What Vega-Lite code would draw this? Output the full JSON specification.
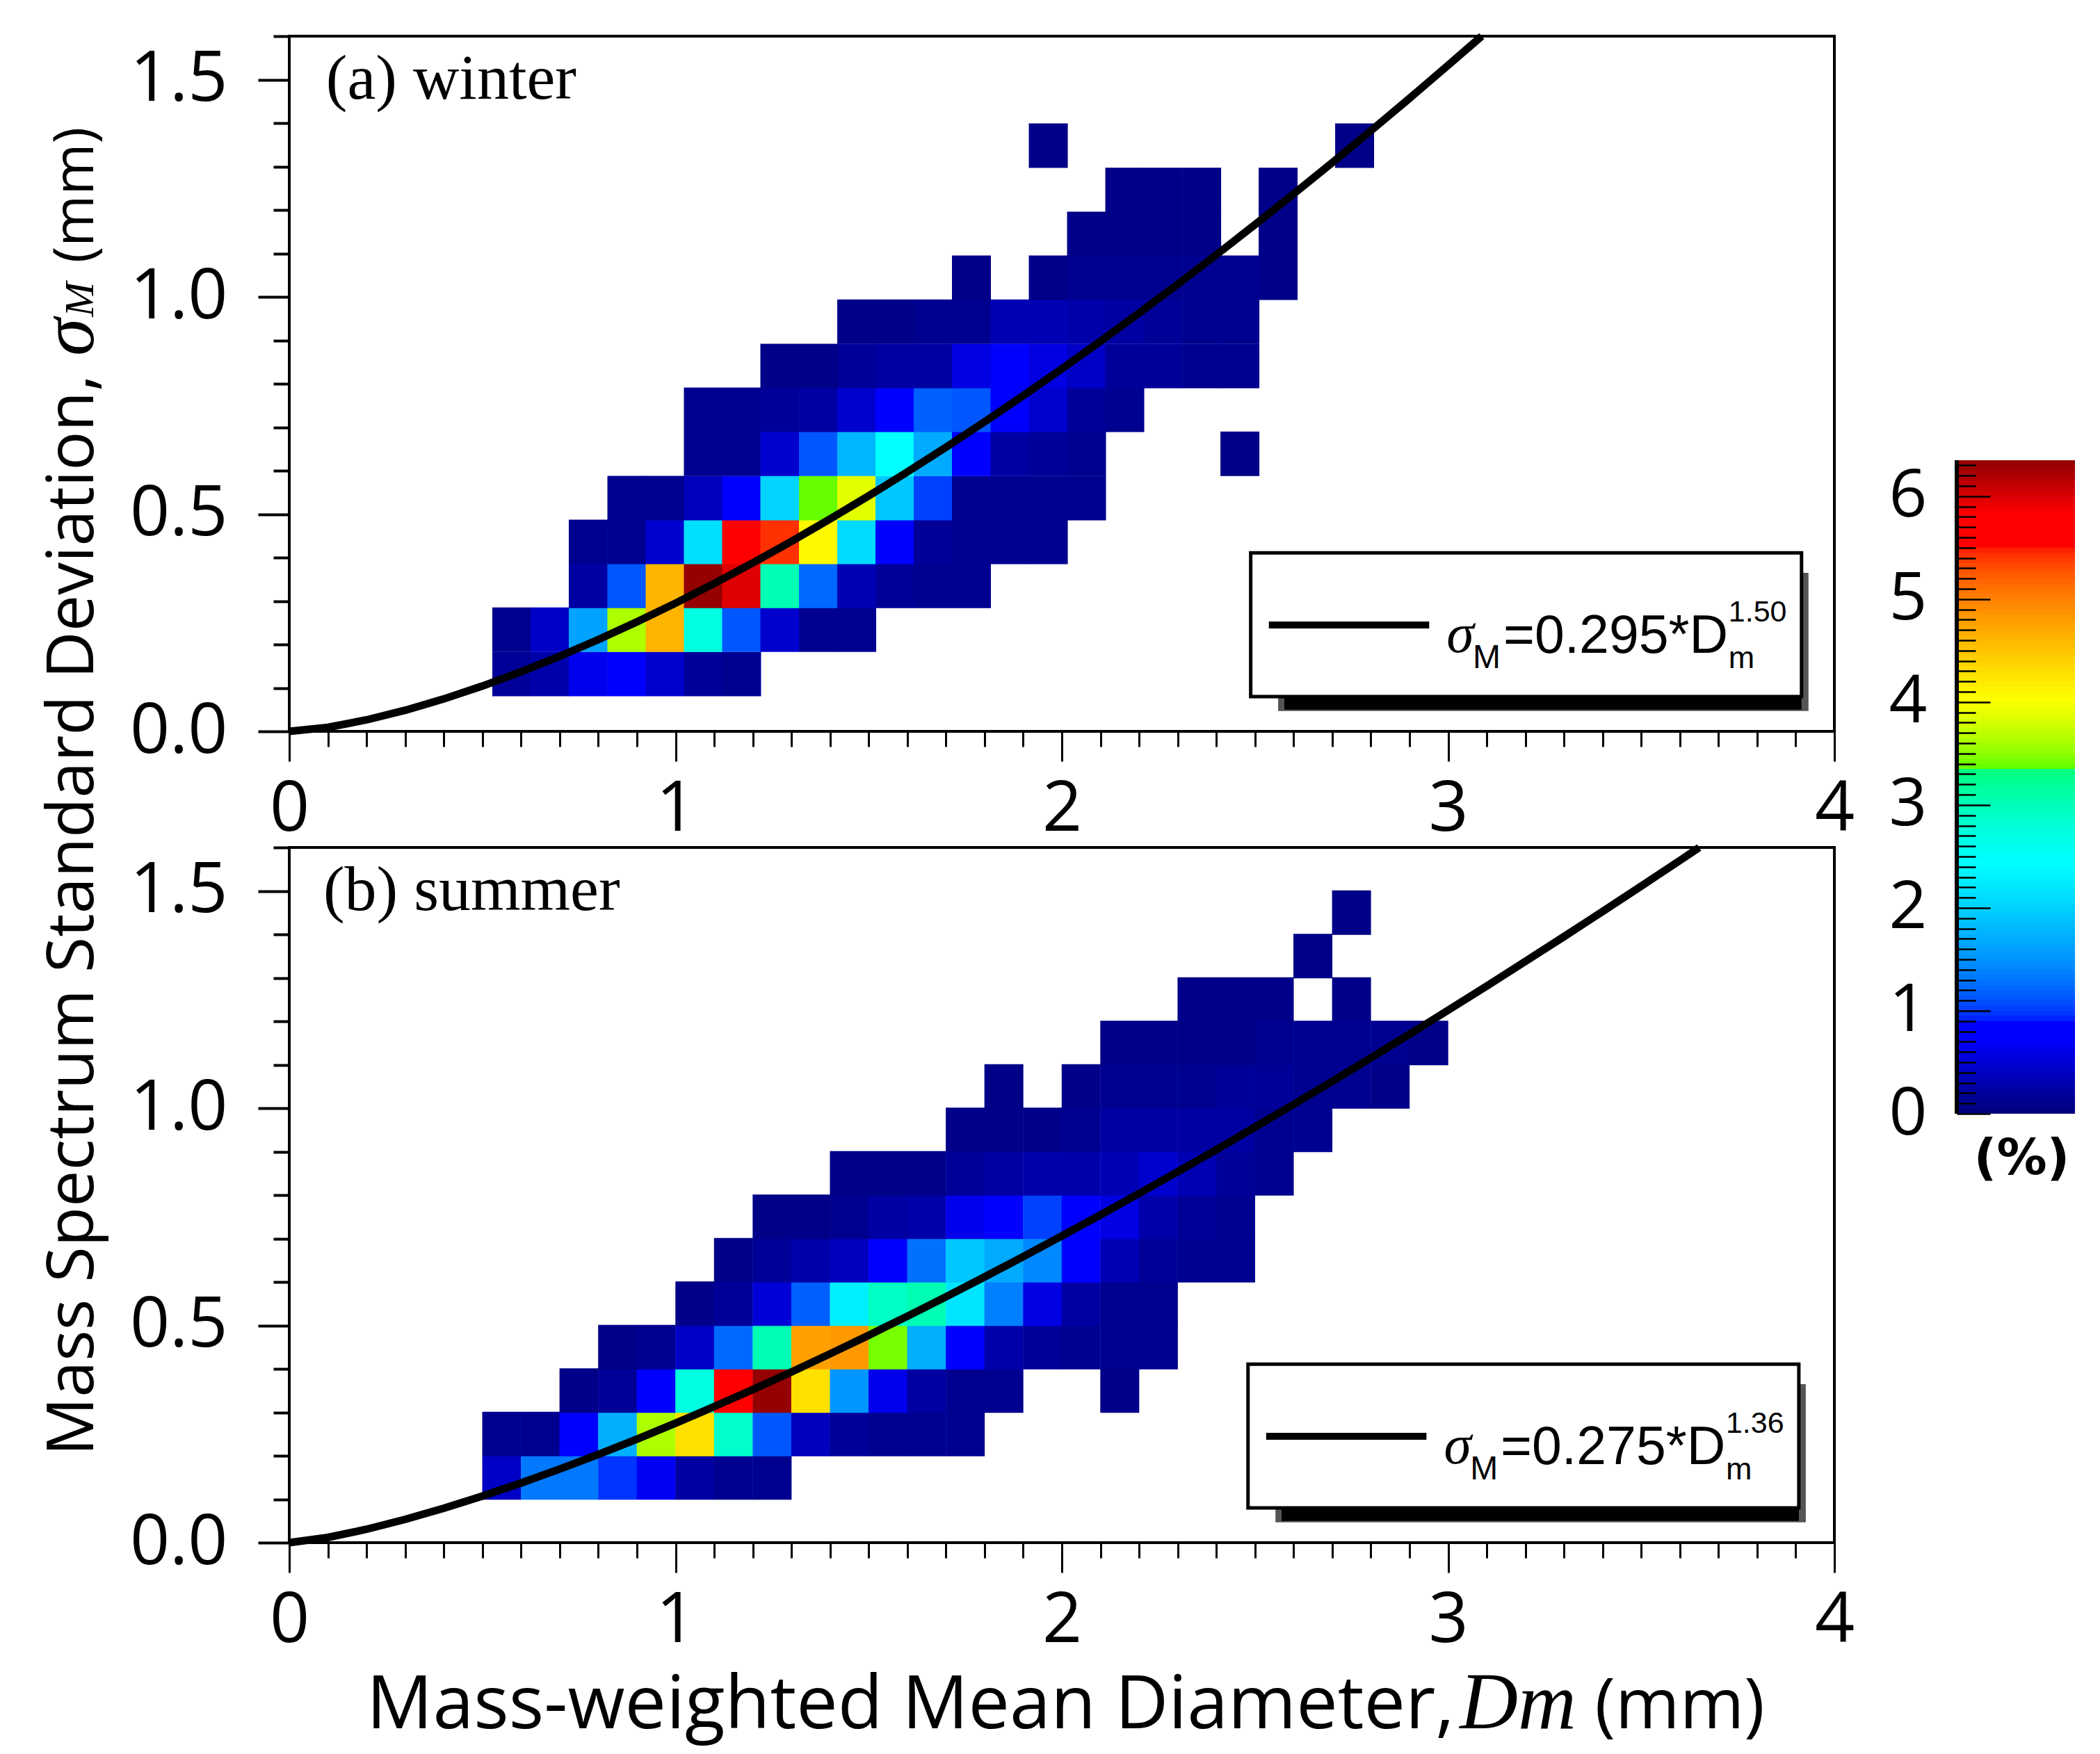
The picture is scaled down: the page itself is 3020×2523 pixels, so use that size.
{
  "$schema": "https://vega.github.io/schema/vega-lite/v6.json",
  "description": "Mass spectrum standard deviation against mass-weighted mean diameter, winter and summer",
  "background": "white",
  "padding": {"left": 43, "top": 28, "right": 0, "bottom": 0},
  "config": {"view": {"stroke": null}},
  "datasets": {
    "note": [{}],
    "winter_cells": [
      {"d":0.576,"s":0.132,"pct":0.15},{"d":0.675,"s":0.132,"pct":0.25},{"d":0.774,"s":0.132,"pct":0.6},{"d":0.874,"s":0.132,"pct":0.8},{"d":0.973,"s":0.132,"pct":0.45},{"d":1.072,"s":0.132,"pct":0.15},{"d":1.171,"s":0.132,"pct":0.1},
      {"d":0.576,"s":0.234,"pct":0.1},{"d":0.675,"s":0.234,"pct":0.4},{"d":0.774,"s":0.234,"pct":1.6},{"d":0.874,"s":0.234,"pct":3.6},{"d":0.973,"s":0.234,"pct":4.6},{"d":1.072,"s":0.234,"pct":2.7},{"d":1.171,"s":0.234,"pct":1.1},{"d":1.27,"s":0.234,"pct":0.45},{"d":1.37,"s":0.234,"pct":0.1},{"d":1.469,"s":0.234,"pct":0.1},
      {"d":0.774,"s":0.335,"pct":0.2},{"d":0.874,"s":0.335,"pct":1.1},{"d":0.973,"s":0.335,"pct":4.6},{"d":1.072,"s":0.335,"pct":6.3},{"d":1.171,"s":0.335,"pct":5.95},{"d":1.27,"s":0.335,"pct":3.0},{"d":1.37,"s":0.335,"pct":1.2},{"d":1.469,"s":0.335,"pct":0.3},{"d":1.568,"s":0.335,"pct":0.15},{"d":1.667,"s":0.335,"pct":0.1},{"d":1.766,"s":0.335,"pct":0.1},
      {"d":0.774,"s":0.436,"pct":0.1},{"d":0.874,"s":0.436,"pct":0.1},{"d":0.973,"s":0.436,"pct":0.45},{"d":1.072,"s":0.436,"pct":2.1},{"d":1.171,"s":0.436,"pct":5.6},{"d":1.27,"s":0.436,"pct":5.4},{"d":1.37,"s":0.436,"pct":4.05},{"d":1.469,"s":0.436,"pct":2.05},{"d":1.568,"s":0.436,"pct":0.8},{"d":1.667,"s":0.436,"pct":0.15},{"d":1.766,"s":0.436,"pct":0.1},{"d":1.866,"s":0.436,"pct":0.1},{"d":1.965,"s":0.436,"pct":0.1},
      {"d":0.874,"s":0.537,"pct":0.1},{"d":0.973,"s":0.537,"pct":0.1},{"d":1.072,"s":0.537,"pct":0.35},{"d":1.171,"s":0.537,"pct":0.8},{"d":1.27,"s":0.537,"pct":2.0},{"d":1.37,"s":0.537,"pct":3.35},{"d":1.469,"s":0.537,"pct":3.85},{"d":1.568,"s":0.537,"pct":1.9},{"d":1.667,"s":0.537,"pct":1.0},{"d":1.766,"s":0.537,"pct":0.1},{"d":1.866,"s":0.537,"pct":0.1},{"d":1.965,"s":0.537,"pct":0.1},{"d":2.064,"s":0.537,"pct":0.1},
      {"d":1.072,"s":0.639,"pct":0.1},{"d":1.171,"s":0.639,"pct":0.1},{"d":1.27,"s":0.639,"pct":0.45},{"d":1.37,"s":0.639,"pct":1.1},{"d":1.469,"s":0.639,"pct":1.75},{"d":1.568,"s":0.639,"pct":2.4},{"d":1.667,"s":0.639,"pct":1.65},{"d":1.766,"s":0.639,"pct":0.85},{"d":1.866,"s":0.639,"pct":0.2},{"d":1.965,"s":0.639,"pct":0.15},{"d":2.064,"s":0.639,"pct":0.1},{"d":2.461,"s":0.639,"pct":0.05},
      {"d":1.072,"s":0.74,"pct":0.1},{"d":1.171,"s":0.74,"pct":0.1},{"d":1.27,"s":0.74,"pct":0.15},{"d":1.37,"s":0.74,"pct":0.2},{"d":1.469,"s":0.74,"pct":0.45},{"d":1.568,"s":0.74,"pct":0.8},{"d":1.667,"s":0.74,"pct":1.15},{"d":1.766,"s":0.74,"pct":1.1},{"d":1.866,"s":0.74,"pct":0.8},{"d":1.965,"s":0.74,"pct":0.45},{"d":2.064,"s":0.74,"pct":0.15},{"d":2.163,"s":0.74,"pct":0.1},
      {"d":1.27,"s":0.841,"pct":0.05},{"d":1.37,"s":0.841,"pct":0.05},{"d":1.469,"s":0.841,"pct":0.15},{"d":1.568,"s":0.841,"pct":0.2},{"d":1.667,"s":0.841,"pct":0.2},{"d":1.766,"s":0.841,"pct":0.55},{"d":1.866,"s":0.841,"pct":0.7},{"d":1.965,"s":0.841,"pct":0.55},{"d":2.064,"s":0.841,"pct":0.4},{"d":2.163,"s":0.841,"pct":0.15},{"d":2.262,"s":0.841,"pct":0.15},{"d":2.362,"s":0.841,"pct":0.1},{"d":2.461,"s":0.841,"pct":0.1},
      {"d":1.469,"s":0.943,"pct":0.05},{"d":1.568,"s":0.943,"pct":0.05},{"d":1.667,"s":0.943,"pct":0.1},{"d":1.766,"s":0.943,"pct":0.1},{"d":1.866,"s":0.943,"pct":0.3},{"d":1.965,"s":0.943,"pct":0.3},{"d":2.064,"s":0.943,"pct":0.25},{"d":2.163,"s":0.943,"pct":0.2},{"d":2.262,"s":0.943,"pct":0.15},{"d":2.362,"s":0.943,"pct":0.1},{"d":2.461,"s":0.943,"pct":0.1},
      {"d":1.766,"s":1.044,"pct":0.05},{"d":1.965,"s":1.044,"pct":0.05},{"d":2.064,"s":1.044,"pct":0.1},{"d":2.163,"s":1.044,"pct":0.1},{"d":2.262,"s":1.044,"pct":0.1},{"d":2.362,"s":1.044,"pct":0.1},{"d":2.461,"s":1.044,"pct":0.1},{"d":2.56,"s":1.044,"pct":0.05},
      {"d":2.064,"s":1.145,"pct":0.05},{"d":2.163,"s":1.145,"pct":0.05},{"d":2.262,"s":1.145,"pct":0.05},{"d":2.362,"s":1.145,"pct":0.05},{"d":2.56,"s":1.145,"pct":0.05},
      {"d":2.163,"s":1.246,"pct":0.05},{"d":2.262,"s":1.246,"pct":0.05},{"d":2.362,"s":1.246,"pct":0.05},{"d":2.56,"s":1.246,"pct":0.05},
      {"d":1.965,"s":1.348,"pct":0.05},{"d":2.758,"s":1.348,"pct":0.05}
    ],
    "summer_cells": [
      {"d":0.55,"s":0.15,"pct":0.4},{"d":0.65,"s":0.15,"pct":1.3},{"d":0.75,"s":0.15,"pct":1.3},{"d":0.85,"s":0.15,"pct":0.95},{"d":0.95,"s":0.15,"pct":0.65},{"d":1.05,"s":0.15,"pct":0.2},{"d":1.15,"s":0.15,"pct":0.1},{"d":1.25,"s":0.15,"pct":0.1},
      {"d":0.55,"s":0.25,"pct":0.1},{"d":0.65,"s":0.25,"pct":0.1},{"d":0.75,"s":0.25,"pct":0.8},{"d":0.85,"s":0.25,"pct":1.7},{"d":0.95,"s":0.25,"pct":3.6},{"d":1.05,"s":0.25,"pct":4.25},{"d":1.15,"s":0.25,"pct":2.85},{"d":1.25,"s":0.25,"pct":1.1},{"d":1.35,"s":0.25,"pct":0.35},{"d":1.45,"s":0.25,"pct":0.15},{"d":1.55,"s":0.25,"pct":0.1},{"d":1.65,"s":0.25,"pct":0.1},{"d":1.75,"s":0.25,"pct":0.1},
      {"d":0.75,"s":0.35,"pct":0.05},{"d":0.85,"s":0.35,"pct":0.15},{"d":0.95,"s":0.35,"pct":0.8},{"d":1.05,"s":0.35,"pct":2.7},{"d":1.15,"s":0.35,"pct":5.6},{"d":1.25,"s":0.35,"pct":6.3},{"d":1.35,"s":0.35,"pct":4.25},{"d":1.45,"s":0.35,"pct":1.5},{"d":1.55,"s":0.35,"pct":0.6},{"d":1.65,"s":0.35,"pct":0.2},{"d":1.75,"s":0.35,"pct":0.1},{"d":1.85,"s":0.35,"pct":0.1},{"d":2.15,"s":0.35,"pct":0.05},
      {"d":0.85,"s":0.45,"pct":0.05},{"d":0.95,"s":0.45,"pct":0.1},{"d":1.05,"s":0.45,"pct":0.4},{"d":1.15,"s":0.45,"pct":1.2},{"d":1.25,"s":0.45,"pct":3.0},{"d":1.35,"s":0.45,"pct":4.75},{"d":1.45,"s":0.45,"pct":4.8},{"d":1.55,"s":0.45,"pct":3.4},{"d":1.65,"s":0.45,"pct":1.7},{"d":1.75,"s":0.45,"pct":0.8},{"d":1.85,"s":0.45,"pct":0.25},{"d":1.95,"s":0.45,"pct":0.15},{"d":2.05,"s":0.45,"pct":0.1},{"d":2.15,"s":0.45,"pct":0.1},{"d":2.25,"s":0.45,"pct":0.1},
      {"d":1.05,"s":0.55,"pct":0.05},{"d":1.15,"s":0.55,"pct":0.15},{"d":1.25,"s":0.55,"pct":0.5},{"d":1.35,"s":0.55,"pct":1.15},{"d":1.45,"s":0.55,"pct":2.25},{"d":1.55,"s":0.55,"pct":2.9},{"d":1.65,"s":0.55,"pct":3.0},{"d":1.75,"s":0.55,"pct":2.15},{"d":1.85,"s":0.55,"pct":1.35},{"d":1.95,"s":0.55,"pct":0.55},{"d":2.05,"s":0.55,"pct":0.2},{"d":2.15,"s":0.55,"pct":0.1},{"d":2.25,"s":0.55,"pct":0.1},
      {"d":1.15,"s":0.65,"pct":0.05},{"d":1.25,"s":0.65,"pct":0.15},{"d":1.35,"s":0.65,"pct":0.25},{"d":1.45,"s":0.65,"pct":0.35},{"d":1.55,"s":0.65,"pct":0.8},{"d":1.65,"s":0.65,"pct":1.25},{"d":1.75,"s":0.65,"pct":1.9},{"d":1.85,"s":0.65,"pct":1.65},{"d":1.95,"s":0.65,"pct":1.4},{"d":2.05,"s":0.65,"pct":0.85},{"d":2.15,"s":0.65,"pct":0.3},{"d":2.25,"s":0.65,"pct":0.15},{"d":2.35,"s":0.65,"pct":0.1},{"d":2.45,"s":0.65,"pct":0.1},
      {"d":1.25,"s":0.75,"pct":0.05},{"d":1.35,"s":0.75,"pct":0.05},{"d":1.45,"s":0.75,"pct":0.1},{"d":1.55,"s":0.75,"pct":0.2},{"d":1.65,"s":0.75,"pct":0.25},{"d":1.75,"s":0.75,"pct":0.6},{"d":1.85,"s":0.75,"pct":0.85},{"d":1.95,"s":0.75,"pct":1.0},{"d":2.05,"s":0.75,"pct":0.85},{"d":2.15,"s":0.75,"pct":0.55},{"d":2.25,"s":0.75,"pct":0.25},{"d":2.35,"s":0.75,"pct":0.15},{"d":2.45,"s":0.75,"pct":0.1},
      {"d":1.45,"s":0.85,"pct":0.05},{"d":1.55,"s":0.85,"pct":0.05},{"d":1.65,"s":0.85,"pct":0.05},{"d":1.75,"s":0.85,"pct":0.15},{"d":1.85,"s":0.85,"pct":0.2},{"d":1.95,"s":0.85,"pct":0.25},{"d":2.05,"s":0.85,"pct":0.25},{"d":2.15,"s":0.85,"pct":0.3},{"d":2.25,"s":0.85,"pct":0.45},{"d":2.35,"s":0.85,"pct":0.3},{"d":2.45,"s":0.85,"pct":0.15},{"d":2.55,"s":0.85,"pct":0.1},
      {"d":1.75,"s":0.95,"pct":0.05},{"d":1.85,"s":0.95,"pct":0.05},{"d":1.95,"s":0.95,"pct":0.05},{"d":2.05,"s":0.95,"pct":0.1},{"d":2.15,"s":0.95,"pct":0.2},{"d":2.25,"s":0.95,"pct":0.2},{"d":2.35,"s":0.95,"pct":0.2},{"d":2.45,"s":0.95,"pct":0.2},{"d":2.55,"s":0.95,"pct":0.1},{"d":2.65,"s":0.95,"pct":0.1},
      {"d":1.85,"s":1.05,"pct":0.05},{"d":2.05,"s":1.05,"pct":0.05},{"d":2.15,"s":1.05,"pct":0.1},{"d":2.25,"s":1.05,"pct":0.1},{"d":2.35,"s":1.05,"pct":0.1},{"d":2.45,"s":1.05,"pct":0.15},{"d":2.55,"s":1.05,"pct":0.15},{"d":2.65,"s":1.05,"pct":0.1},{"d":2.75,"s":1.05,"pct":0.1},{"d":2.85,"s":1.05,"pct":0.05},
      {"d":2.15,"s":1.15,"pct":0.05},{"d":2.25,"s":1.15,"pct":0.05},{"d":2.35,"s":1.15,"pct":0.05},{"d":2.45,"s":1.15,"pct":0.05},{"d":2.55,"s":1.15,"pct":0.1},{"d":2.65,"s":1.15,"pct":0.1},{"d":2.75,"s":1.15,"pct":0.1},{"d":2.85,"s":1.15,"pct":0.1},{"d":2.95,"s":1.15,"pct":0.05},
      {"d":2.35,"s":1.25,"pct":0.05},{"d":2.45,"s":1.25,"pct":0.05},{"d":2.55,"s":1.25,"pct":0.05},{"d":2.75,"s":1.25,"pct":0.05},
      {"d":2.65,"s":1.35,"pct":0.05},
      {"d":2.75,"s":1.45,"pct":0.05}
    ],
    "winter_fit": [
      {"d":0,"s":0},{"d":0.1,"s":0.0093},{"d":0.2,"s":0.0264},{"d":0.3,"s":0.0485},{"d":0.4,"s":0.0746},{"d":0.5,"s":0.1043},{"d":0.6,"s":0.1371},{"d":0.7,"s":0.1728},{"d":0.8,"s":0.2111},{"d":0.9,"s":0.2519},{"d":1,"s":0.295},{"d":1.1,"s":0.3403},{"d":1.2,"s":0.3878},{"d":1.3,"s":0.4373},{"d":1.4,"s":0.4887},{"d":1.5,"s":0.5419},{"d":1.6,"s":0.597},{"d":1.7,"s":0.6539},{"d":1.8,"s":0.7124},{"d":1.9,"s":0.7726},{"d":2,"s":0.8344},{"d":2.1,"s":0.8977},{"d":2.2,"s":0.9627},{"d":2.3,"s":1.029},{"d":2.4,"s":1.0968},{"d":2.5,"s":1.1661},{"d":2.6,"s":1.2368},{"d":2.7,"s":1.3088},{"d":2.8,"s":1.3822},{"d":2.9,"s":1.4569},{"d":3,"s":1.5329},{"d":3.087,"s":1.6}
    ],
    "summer_fit": [
      {"d":0,"s":0},{"d":0.1,"s":0.012},{"d":0.2,"s":0.0308},{"d":0.3,"s":0.0535},{"d":0.4,"s":0.0791},{"d":0.5,"s":0.1071},{"d":0.6,"s":0.1373},{"d":0.7,"s":0.1693},{"d":0.8,"s":0.203},{"d":0.9,"s":0.2383},{"d":1,"s":0.275},{"d":1.1,"s":0.3131},{"d":1.2,"s":0.3524},{"d":1.3,"s":0.3929},{"d":1.4,"s":0.4346},{"d":1.5,"s":0.4773},{"d":1.6,"s":0.5211},{"d":1.7,"s":0.5659},{"d":1.8,"s":0.6116},{"d":1.9,"s":0.6583},{"d":2,"s":0.7059},{"d":2.1,"s":0.7543},{"d":2.2,"s":0.8036},{"d":2.3,"s":0.8537},{"d":2.4,"s":0.9045},{"d":2.5,"s":0.9562},{"d":2.6,"s":1.0086},{"d":2.7,"s":1.0616},{"d":2.8,"s":1.1155},{"d":2.9,"s":1.17},{"d":3,"s":1.2253},{"d":3.1,"s":1.2811},{"d":3.2,"s":1.3377},{"d":3.3,"s":1.3948},{"d":3.4,"s":1.4526},{"d":3.5,"s":1.5111},{"d":3.6,"s":1.57},{"d":3.65,"s":1.5997}
    ],
    "colorbar": [
      {"lo":0,"hi":0.1},{"lo":0.05,"hi":0.15},{"lo":0.1,"hi":0.2},{"lo":0.15,"hi":0.25},{"lo":0.2,"hi":0.3},{"lo":0.25,"hi":0.35},{"lo":0.3,"hi":0.4},{"lo":0.35,"hi":0.45},{"lo":0.4,"hi":0.5},{"lo":0.45,"hi":0.55},{"lo":0.5,"hi":0.6},{"lo":0.55,"hi":0.65},{"lo":0.6,"hi":0.7},{"lo":0.65,"hi":0.75},{"lo":0.7,"hi":0.8},{"lo":0.75,"hi":0.85},{"lo":0.8,"hi":0.9},{"lo":0.85,"hi":0.95},{"lo":0.9,"hi":1},{"lo":0.95,"hi":1.05},
      {"lo":1,"hi":1.1},{"lo":1.05,"hi":1.15},{"lo":1.1,"hi":1.2},{"lo":1.15,"hi":1.25},{"lo":1.2,"hi":1.3},{"lo":1.25,"hi":1.35},{"lo":1.3,"hi":1.4},{"lo":1.35,"hi":1.45},{"lo":1.4,"hi":1.5},{"lo":1.45,"hi":1.55},{"lo":1.5,"hi":1.6},{"lo":1.55,"hi":1.65},{"lo":1.6,"hi":1.7},{"lo":1.65,"hi":1.75},{"lo":1.7,"hi":1.8},{"lo":1.75,"hi":1.85},{"lo":1.8,"hi":1.9},{"lo":1.85,"hi":1.95},{"lo":1.9,"hi":2},{"lo":1.95,"hi":2.05},
      {"lo":2,"hi":2.1},{"lo":2.05,"hi":2.15},{"lo":2.1,"hi":2.2},{"lo":2.15,"hi":2.25},{"lo":2.2,"hi":2.3},{"lo":2.25,"hi":2.35},{"lo":2.3,"hi":2.4},{"lo":2.35,"hi":2.45},{"lo":2.4,"hi":2.5},{"lo":2.45,"hi":2.55},{"lo":2.5,"hi":2.6},{"lo":2.55,"hi":2.65},{"lo":2.6,"hi":2.7},{"lo":2.65,"hi":2.75},{"lo":2.7,"hi":2.8},{"lo":2.75,"hi":2.85},{"lo":2.8,"hi":2.9},{"lo":2.85,"hi":2.95},{"lo":2.9,"hi":3},{"lo":2.95,"hi":3.05},
      {"lo":3,"hi":3.1},{"lo":3.05,"hi":3.15},{"lo":3.1,"hi":3.2},{"lo":3.15,"hi":3.25},{"lo":3.2,"hi":3.3},{"lo":3.25,"hi":3.35},{"lo":3.3,"hi":3.4},{"lo":3.35,"hi":3.45},{"lo":3.4,"hi":3.5},{"lo":3.45,"hi":3.55},{"lo":3.5,"hi":3.6},{"lo":3.55,"hi":3.65},{"lo":3.6,"hi":3.7},{"lo":3.65,"hi":3.75},{"lo":3.7,"hi":3.8},{"lo":3.75,"hi":3.85},{"lo":3.8,"hi":3.9},{"lo":3.85,"hi":3.95},{"lo":3.9,"hi":4},{"lo":3.95,"hi":4.05},
      {"lo":4,"hi":4.1},{"lo":4.05,"hi":4.15},{"lo":4.1,"hi":4.2},{"lo":4.15,"hi":4.25},{"lo":4.2,"hi":4.3},{"lo":4.25,"hi":4.35},{"lo":4.3,"hi":4.4},{"lo":4.35,"hi":4.45},{"lo":4.4,"hi":4.5},{"lo":4.45,"hi":4.55},{"lo":4.5,"hi":4.6},{"lo":4.55,"hi":4.65},{"lo":4.6,"hi":4.7},{"lo":4.65,"hi":4.75},{"lo":4.7,"hi":4.8},{"lo":4.75,"hi":4.85},{"lo":4.8,"hi":4.9},{"lo":4.85,"hi":4.95},{"lo":4.9,"hi":5},{"lo":4.95,"hi":5.05},
      {"lo":5,"hi":5.1},{"lo":5.05,"hi":5.15},{"lo":5.1,"hi":5.2},{"lo":5.15,"hi":5.25},{"lo":5.2,"hi":5.3},{"lo":5.25,"hi":5.35},{"lo":5.3,"hi":5.4},{"lo":5.35,"hi":5.45},{"lo":5.4,"hi":5.5},{"lo":5.45,"hi":5.55},{"lo":5.5,"hi":5.6},{"lo":5.55,"hi":5.65},{"lo":5.6,"hi":5.7},{"lo":5.65,"hi":5.75},{"lo":5.7,"hi":5.8},{"lo":5.75,"hi":5.85},{"lo":5.8,"hi":5.9},{"lo":5.85,"hi":5.95},{"lo":5.9,"hi":6},{"lo":5.95,"hi":6.05},
      {"lo":6,"hi":6.1},{"lo":6.05,"hi":6.15},{"lo":6.1,"hi":6.2},{"lo":6.15,"hi":6.25},{"lo":6.2,"hi":6.3},{"lo":6.25,"hi":6.35},{"lo":6.3,"hi":6.35}
    ]
  },
  "columns": 2,
  "spacing": {"row": 167, "column": 176},
  "bounds": "flush",
  "concat": [
    {
      "width": 2222,
      "height": 1000,
      "view": {"stroke": "#000", "strokeWidth": 4},
      "layer": [
        {
          "data": {"name": "winter_cells"},
          "mark": {"type": "rect", "width": 56, "height": 64},
          "encoding": {
            "x": {"field": "d", "type": "quantitative", "scale": {"domain": [0, 4], "nice": false},
              "axis": {"values": [0,0.1,0.2,0.3,0.4,0.5,0.6,0.7,0.8,0.9,1,1.1,1.2,1.3,1.4,1.5,1.6,1.7,1.8,1.9,2,2.1,2.2,2.3,2.4,2.5,2.6,2.7,2.8,2.9,3,3.1,3.2,3.3,3.4,3.5,3.6,3.7,3.8,3.9,4], "title": null, "grid": false, "domain": false, "tickCount": 50, "tickColor": "#000", "tickWidth": 3, "tickSize": {"condition": {"test": "abs(round(datum.value*10)%10)==0", "value": 43}, "value": 22}, "labelExpr": "abs(round(datum.value*10)%10)==0 ? format(datum.value,'d') : ''", "labelFont": "Open Sans", "labelFontSize": {"condition": {"test": "abs(round(datum.value*10)%10)==0", "value": 100}, "value": 1}, "labelColor": "#000", "labelPadding": 20, "labelOverlap": false, "labelBound": false, "labelFlush": false}},
            "y": {"field": "s", "type": "quantitative", "scale": {"domain": [0, 1.6], "nice": false, "zero": false},
              "axis": {"values": [0,0.1,0.2,0.3,0.4,0.5,0.6,0.7,0.8,0.9,1,1.1,1.2,1.3,1.4,1.5,1.6], "title": null, "grid": false, "domain": false, "tickCount": 20, "tickColor": "#000", "tickWidth": 4, "tickSize": {"condition": {"test": "abs(round(datum.value*10)%5)==0", "value": 45}, "value": 23}, "labelExpr": "abs(round(datum.value*10)%5)==0 ? format(datum.value,'.1f') : ''", "labelFont": "Open Sans", "labelFontSize": {"condition": {"test": "abs(round(datum.value*10)%5)==0", "value": 100}, "value": 1}, "labelColor": "#000", "labelPadding": 44, "labelOverlap": false, "labelBound": false, "labelFlush": false}},
            "color": {"field": "pct", "type": "quantitative", "legend": null, "scale": {"domain": [0,0.7,0.85,2.4,3.3,3.35,4,5.5,5.8,6.35], "range": ["#00007f","#0000ff","#0000ff","#00ffff","#00ff80","#66ff00","#ffff00","#ff0000","#ff0000","#8b0000"]}}
          }
        },
        {
          "data": {"name": "winter_fit"},
          "mark": {"type": "line", "color": "#000", "strokeWidth": 11},
          "encoding": {"x": {"field": "d", "type": "quantitative"}, "y": {"field": "s", "type": "quantitative"}}
        },
        {
          "data": {"name": "note"},
          "mark": {"type": "rect", "color": "#555"},
          "encoding": {"x": {"datum": 2.56}, "x2": {"datum": 3.933}, "y": {"datum": 0.365}, "y2": {"datum": 0.047}}
        },
        {
          "data": {"name": "note"},
          "mark": {"type": "rect", "color": "#000"},
          "encoding": {"x": {"datum": 2.576}, "x2": {"datum": 3.915}, "y": {"datum": 0.08}, "y2": {"datum": 0.05}}
        },
        {
          "data": {"name": "note"},
          "mark": {"type": "rect", "fill": "#fff", "stroke": "#000", "strokeWidth": 5},
          "encoding": {"x": {"datum": 2.489}, "x2": {"datum": 3.915}, "y": {"datum": 0.411}, "y2": {"datum": 0.08}}
        },
        {
          "data": {"name": "note"},
          "mark": {"type": "rule", "color": "#000", "strokeWidth": 10},
          "encoding": {"x": {"datum": 2.536}, "x2": {"datum": 2.951}, "y": {"datum": 0.245}}
        },
        {
          "data": {"name": "note"},
          "mark": {"type": "text", "font": "Liberation Serif", "fontStyle": "italic", "fontSize": 80, "align": "left", "baseline": "alphabetic", "color": "#000"},
          "encoding": {"x": {"datum": 2.996}, "y": {"datum": 0.182}, "text": {"value": "σ"}}
        },
        {
          "data": {"name": "note"},
          "mark": {"type": "text", "font": "Liberation Sans", "fontSize": 48, "align": "left", "baseline": "alphabetic", "color": "#000"},
          "encoding": {"x": {"datum": 3.064}, "y": {"datum": 0.146}, "text": {"value": "M"}}
        },
        {
          "data": {"name": "note"},
          "mark": {"type": "text", "font": "Liberation Sans", "fontSize": 77, "align": "left", "baseline": "alphabetic", "color": "#000"},
          "encoding": {"x": {"datum": 3.143}, "y": {"datum": 0.181}, "text": {"value": "=0.295*D"}}
        },
        {
          "data": {"name": "note"},
          "mark": {"type": "text", "font": "Liberation Sans", "fontSize": 43, "align": "left", "baseline": "alphabetic", "color": "#000"},
          "encoding": {"x": {"datum": 3.726}, "y": {"datum": 0.253}, "text": {"value": "1.50"}}
        },
        {
          "data": {"name": "note"},
          "mark": {"type": "text", "font": "Liberation Sans", "fontSize": 45, "align": "left", "baseline": "alphabetic", "color": "#000"},
          "encoding": {"x": {"datum": 3.726}, "y": {"datum": 0.146}, "text": {"value": "m"}}
        },
        {
          "data": {"name": "note"},
          "mark": {"type": "text", "font": "Liberation Serif", "fontSize": 92, "align": "left", "baseline": "alphabetic", "color": "#000"},
          "encoding": {"x": {"datum": 0.095}, "y": {"datum": 1.456}, "text": {"value": "(a) winter"}}
        },
        {
          "data": {"name": "note"},
          "mark": {"type": "text", "font": "Open Sans", "fontSize": 93.5, "angle": 270, "align": "left", "baseline": "alphabetic", "color": "#000"},
          "encoding": {"x": {"datum": -0.5077}, "y": {"datum": -1.667}, "text": {"value": "Mass Spectrum Standard Deviation,"}}
        },
        {
          "data": {"name": "note"},
          "mark": {"type": "text", "font": "Liberation Serif", "fontStyle": "italic", "fontSize": 110, "angle": 270, "align": "left", "baseline": "alphabetic", "color": "#000"},
          "encoding": {"x": {"datum": -0.5077}, "y": {"datum": 0.864}, "text": {"value": "σ"}}
        },
        {
          "data": {"name": "note"},
          "mark": {"type": "text", "font": "Liberation Serif", "fontStyle": "italic", "fontSize": 60, "angle": 270, "align": "left", "baseline": "alphabetic", "color": "#000"},
          "encoding": {"x": {"datum": -0.5077}, "y": {"datum": 0.954}, "text": {"value": "M"}}
        },
        {
          "data": {"name": "note"},
          "mark": {"type": "text", "font": "Open Sans", "fontSize": 80, "angle": 270, "align": "left", "baseline": "alphabetic", "color": "#000"},
          "encoding": {"x": {"datum": -0.5077}, "y": {"datum": 1.078}, "text": {"value": "(mm)"}}
        }
      ]
    },
    {
      "width": 170,
      "height": 1000,
      "layer": [
        {
          "data": {"name": "colorbar"},
          "mark": {"type": "rect"},
          "encoding": {
            "x": {"datum": 0, "type": "quantitative", "scale": {"domain": [0, 1], "nice": false}, "axis": null},
            "x2": {"datum": 1},
            "y": {"field": "lo", "type": "quantitative", "scale": {"domain": [0, 6.35], "range": [1550, 610], "nice": false, "zero": false},
              "axis": {"values": [0,0.1,0.2,0.3,0.4,0.5,0.6,0.7,0.8,0.9,1,1.1,1.2,1.3,1.4,1.5,1.6,1.7,1.8,1.9,2,2.1,2.2,2.3,2.4,2.5,2.6,2.7,2.8,2.9,3,3.1,3.2,3.3,3.4,3.5,3.6,3.7,3.8,3.9,4,4.1,4.2,4.3,4.4,4.5,4.6,4.7,4.8,4.9,5,5.1,5.2,5.3,5.4,5.5,5.6,5.7,5.8,5.9,6,6.1,6.2,6.3], "title": null, "grid": false, "domain": false, "zindex": 1, "tickCount": 70, "tickColor": "#000", "tickWidth": 2.5, "tickSize": {"condition": {"test": "abs(round(datum.value*10)%10)==0", "value": -48}, "value": -27}, "labelExpr": "abs(round(datum.value*10)%10)==0 ? format(datum.value,'d') : ''", "labelFont": "Open Sans", "labelFontSize": {"condition": {"test": "abs(round(datum.value*10)%10)==0", "value": 96}, "value": 1}, "labelColor": "#000", "labelPadding": 91, "labelOverlap": false, "labelBound": false, "labelFlush": false}},
            "y2": {"field": "hi"},
            "color": {"field": "lo", "type": "quantitative", "legend": null, "scale": {"domain": [0,0.7,0.85,2.4,3.3,3.35,4,5.5,5.8,6.35], "range": ["#00007f","#0000ff","#0000ff","#00ffff","#00ff80","#66ff00","#ffff00","#ff0000","#ff0000","#8b0000"]}}
          }
        },
        {
          "data": {"name": "note"},
          "mark": {"type": "rule", "color": "#000", "strokeWidth": 6},
          "encoding": {"x": {"datum": 0}, "y": {"datum": 0}, "y2": {"datum": 6.35}}
        },
        {
          "data": {"name": "note"},
          "mark": {"type": "text", "font": "DejaVu Sans", "fontWeight": "bold", "fontSize": 72, "align": "center", "baseline": "alphabetic", "color": "#000"},
          "encoding": {"x": {"datum": 0.55}, "y": {"datum": -0.59}, "text": {"value": "(%)"}}
        }
      ]
    },
    {
      "width": 2222,
      "height": 1000,
      "view": {"stroke": "#000", "strokeWidth": 4},
      "layer": [
        {
          "data": {"name": "summer_cells"},
          "mark": {"type": "rect", "width": 56, "height": 64},
          "encoding": {
            "x": {"field": "d", "type": "quantitative", "scale": {"domain": [0, 4], "nice": false},
              "axis": {"values": [0,0.1,0.2,0.3,0.4,0.5,0.6,0.7,0.8,0.9,1,1.1,1.2,1.3,1.4,1.5,1.6,1.7,1.8,1.9,2,2.1,2.2,2.3,2.4,2.5,2.6,2.7,2.8,2.9,3,3.1,3.2,3.3,3.4,3.5,3.6,3.7,3.8,3.9,4], "title": null, "grid": false, "domain": false, "tickCount": 50, "tickColor": "#000", "tickWidth": 3, "tickSize": {"condition": {"test": "abs(round(datum.value*10)%10)==0", "value": 43}, "value": 22}, "labelExpr": "abs(round(datum.value*10)%10)==0 ? format(datum.value,'d') : ''", "labelFont": "Open Sans", "labelFontSize": {"condition": {"test": "abs(round(datum.value*10)%10)==0", "value": 100}, "value": 1}, "labelColor": "#000", "labelPadding": 20, "labelOverlap": false, "labelBound": false, "labelFlush": false}},
            "y": {"field": "s", "type": "quantitative", "scale": {"domain": [0, 1.6], "nice": false, "zero": false},
              "axis": {"values": [0,0.1,0.2,0.3,0.4,0.5,0.6,0.7,0.8,0.9,1,1.1,1.2,1.3,1.4,1.5,1.6], "title": null, "grid": false, "domain": false, "tickCount": 20, "tickColor": "#000", "tickWidth": 4, "tickSize": {"condition": {"test": "abs(round(datum.value*10)%5)==0", "value": 45}, "value": 23}, "labelExpr": "abs(round(datum.value*10)%5)==0 ? format(datum.value,'.1f') : ''", "labelFont": "Open Sans", "labelFontSize": {"condition": {"test": "abs(round(datum.value*10)%5)==0", "value": 100}, "value": 1}, "labelColor": "#000", "labelPadding": 44, "labelOverlap": false, "labelBound": false, "labelFlush": false}},
            "color": {"field": "pct", "type": "quantitative", "legend": null, "scale": {"domain": [0,0.7,0.85,2.4,3.3,3.35,4,5.5,5.8,6.35], "range": ["#00007f","#0000ff","#0000ff","#00ffff","#00ff80","#66ff00","#ffff00","#ff0000","#ff0000","#8b0000"]}}
          }
        },
        {
          "data": {"name": "summer_fit"},
          "mark": {"type": "line", "color": "#000", "strokeWidth": 11},
          "encoding": {"x": {"field": "d", "type": "quantitative"}, "y": {"field": "s", "type": "quantitative"}}
        },
        {
          "data": {"name": "note"},
          "mark": {"type": "rect", "color": "#555"},
          "encoding": {"x": {"datum": 2.553}, "x2": {"datum": 3.926}, "y": {"datum": 0.365}, "y2": {"datum": 0.047}}
        },
        {
          "data": {"name": "note"},
          "mark": {"type": "rect", "color": "#000"},
          "encoding": {"x": {"datum": 2.569}, "x2": {"datum": 3.908}, "y": {"datum": 0.08}, "y2": {"datum": 0.05}}
        },
        {
          "data": {"name": "note"},
          "mark": {"type": "rect", "fill": "#fff", "stroke": "#000", "strokeWidth": 5},
          "encoding": {"x": {"datum": 2.482}, "x2": {"datum": 3.908}, "y": {"datum": 0.411}, "y2": {"datum": 0.08}}
        },
        {
          "data": {"name": "note"},
          "mark": {"type": "rule", "color": "#000", "strokeWidth": 10},
          "encoding": {"x": {"datum": 2.529}, "x2": {"datum": 2.944}, "y": {"datum": 0.245}}
        },
        {
          "data": {"name": "note"},
          "mark": {"type": "text", "font": "Liberation Serif", "fontStyle": "italic", "fontSize": 80, "align": "left", "baseline": "alphabetic", "color": "#000"},
          "encoding": {"x": {"datum": 2.989}, "y": {"datum": 0.182}, "text": {"value": "σ"}}
        },
        {
          "data": {"name": "note"},
          "mark": {"type": "text", "font": "Liberation Sans", "fontSize": 48, "align": "left", "baseline": "alphabetic", "color": "#000"},
          "encoding": {"x": {"datum": 3.057}, "y": {"datum": 0.146}, "text": {"value": "M"}}
        },
        {
          "data": {"name": "note"},
          "mark": {"type": "text", "font": "Liberation Sans", "fontSize": 77, "align": "left", "baseline": "alphabetic", "color": "#000"},
          "encoding": {"x": {"datum": 3.136}, "y": {"datum": 0.181}, "text": {"value": "=0.275*D"}}
        },
        {
          "data": {"name": "note"},
          "mark": {"type": "text", "font": "Liberation Sans", "fontSize": 43, "align": "left", "baseline": "alphabetic", "color": "#000"},
          "encoding": {"x": {"datum": 3.719}, "y": {"datum": 0.253}, "text": {"value": "1.36"}}
        },
        {
          "data": {"name": "note"},
          "mark": {"type": "text", "font": "Liberation Sans", "fontSize": 45, "align": "left", "baseline": "alphabetic", "color": "#000"},
          "encoding": {"x": {"datum": 3.719}, "y": {"datum": 0.146}, "text": {"value": "m"}}
        },
        {
          "data": {"name": "note"},
          "mark": {"type": "text", "font": "Liberation Serif", "fontSize": 92, "align": "left", "baseline": "alphabetic", "color": "#000"},
          "encoding": {"x": {"datum": 0.088}, "y": {"datum": 1.456}, "text": {"value": "(b) summer"}}
        },
        {
          "data": {"name": "note"},
          "mark": {"type": "text", "font": "Open Sans", "fontSize": 106, "align": "left", "baseline": "alphabetic", "color": "#000"},
          "encoding": {"x": {"datum": 0.2}, "y": {"datum": -0.4265}, "text": {"value": "Mass-weighted Mean Diameter,"}}
        },
        {
          "data": {"name": "note"},
          "mark": {"type": "text", "font": "Liberation Serif", "fontStyle": "italic", "fontSize": 116, "align": "left", "baseline": "alphabetic", "color": "#000"},
          "encoding": {"x": {"datum": 3.03}, "y": {"datum": -0.4265}, "text": {"value": "Dm"}}
        },
        {
          "data": {"name": "note"},
          "mark": {"type": "text", "font": "Open Sans", "fontSize": 100, "align": "left", "baseline": "alphabetic", "color": "#000"},
          "encoding": {"x": {"datum": 3.38}, "y": {"datum": -0.4265}, "text": {"value": "(mm)"}}
        }
      ]
    }
  ]
}
